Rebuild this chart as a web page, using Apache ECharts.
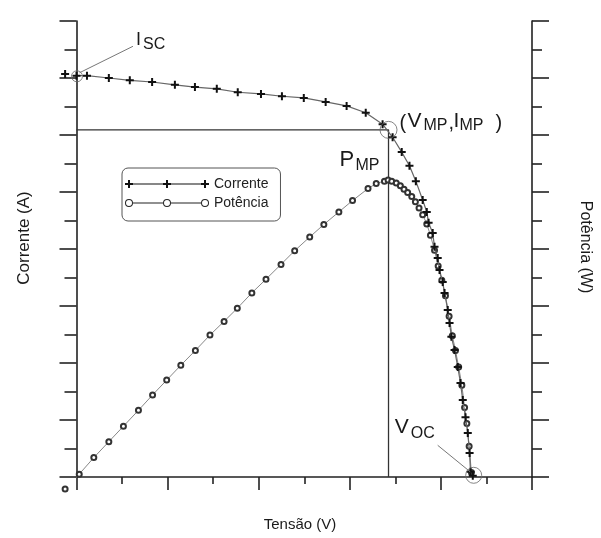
<!DOCTYPE html>
<html>
<head>
<meta charset="utf-8">
<title>Curva I-V e P-V</title>
<script src="https://cdn.jsdelivr.net/npm/echarts@6/dist/echarts.min.js"></script>
<style>
html, body { margin: 0; padding: 0; background: #fff; }
#chart { width: 601px; height: 538px; }
</style>
</head>
<body>
<div id="chart"></div>
<script>
// curva de corrente (tensão x corrente)
var voltagemCorrente = [-0.25, 0.00, 0.23, 0.71, 1.17, 1.66, 2.16, 2.60, 3.08, 3.54,
    4.05, 4.51, 4.99, 5.47, 5.93, 6.35, 6.72, 6.94, 7.14, 7.31,
    7.45, 7.60, 7.69, 7.73, 7.82, 7.86, 7.93, 7.97, 8.04, 8.08,
    8.15, 8.19, 8.23, 8.30, 8.37, 8.43, 8.48, 8.54, 8.59, 8.63,
    8.65, 8.70];
var corrente = [7.07, 7.04, 7.04, 7.00, 6.96, 6.93, 6.88, 6.84, 6.81, 6.75,
    6.72, 6.68, 6.65, 6.58, 6.51, 6.39, 6.19, 5.96, 5.70, 5.46,
    5.19, 4.86, 4.65, 4.46, 4.28, 4.04, 3.84, 3.63, 3.42, 3.23,
    2.93, 2.70, 2.46, 2.23, 1.93, 1.65, 1.35, 1.05, 0.77, 0.42,
    0.09, 0.02];

// curva de potência
var voltagemPotencia = [-0.25, 0.06, 0.38, 0.71, 1.03, 1.36, 1.67, 1.98, 2.29, 2.61,
    2.93, 3.24, 3.53, 3.85, 4.16, 4.49, 4.79, 5.12, 5.43, 5.76,
    6.06, 6.40, 6.58, 6.76, 6.84, 6.92, 7.02, 7.11, 7.19, 7.27,
    7.36, 7.44, 7.52, 7.60, 7.69, 7.77, 7.86, 7.94, 8.02, 8.10,
    8.18, 8.25, 8.32, 8.39, 8.46, 8.52, 8.57, 8.62, 8.67];
var potencia = [-0.21, 0.05, 0.34, 0.62, 0.89, 1.17, 1.44, 1.70, 1.96, 2.22,
    2.49, 2.73, 2.96, 3.23, 3.47, 3.73, 3.97, 4.21, 4.43, 4.65,
    4.85, 5.06, 5.15, 5.19, 5.21, 5.19, 5.16, 5.11, 5.05, 4.99,
    4.92, 4.83, 4.72, 4.60, 4.44, 4.24, 3.98, 3.70, 3.45, 3.18,
    2.82, 2.48, 2.22, 1.93, 1.61, 1.22, 0.94, 0.54, 0.08];

// pontos notáveis
var pontoIsc = [0.01, 7.03];
var pontoMP = [6.85, 6.09];
var pontoVoc = [8.72, 0.03];

var eixoX = [0, 10, 2];   // min, max, intervalo
var eixoY = [0, 8, 1];

function pares(xs, ys) {
    return xs.map(function (x, i) { return [x, ys[i]]; });
}

var fonte = '"Liberation Sans", Arial, sans-serif';
var plus = 'path://M3,0H5V3H8V5H5V8H3V5H0V3H3Z';
var legPlus = 'path://M3,0H5V3H8V5H5V8H3V5H0V3H3Z M8,3.5H38V4.5H8Z M41,0H43V3H46V5H43V8H41V5H38V3H41Z M46,3.5H76V4.5H46Z M79,0H81V3H84V5H81V8H79V5H76V3H79Z';
var legRing = 'path://M0,4A4,4,0,1,0,8,4A4,4,0,1,0,0,4Z M1,4A3,3,0,1,1,7,4A3,3,0,1,1,1,4Z M8,3.5H38V4.5H8Z ' +
    'M38,4A4,4,0,1,0,46,4A4,4,0,1,0,38,4Z M39,4A3,3,0,1,1,45,4A3,3,0,1,1,39,4Z M46,3.5H76V4.5H46Z ' +
    'M76,4A4,4,0,1,0,84,4A4,4,0,1,0,76,4Z M77,4A3,3,0,1,1,83,4A3,3,0,1,1,77,4Z';

function eixoY_(pos, tick, minor) {
    return {
        type: 'value', position: pos,
        min: eixoY[0], max: eixoY[1], interval: eixoY[2],
        axisLine: { show: true, lineStyle: { color: '#222', width: 1.6 } },
        axisTick: { show: true, length: tick, lineStyle: { color: '#222', width: 1.6 } },
        minorTick: { show: true, splitNumber: 2, length: minor, lineStyle: { color: '#222', width: 1.6 } },
        axisLabel: { show: false },
        splitLine: { show: false }
    };
}

var chart = echarts.init(document.getElementById('chart'));
var tamanhos = [11, 17, 16];

chart.setOption({
    animation: false,
    backgroundColor: '#fff',
    grid: { left: 76.5, right: 69, top: 21, bottom: 61, outerBoundsMode: 'none' },
    legend: {
        left: 122, top: 168, orient: 'vertical',
        padding: [9, 12, 11, 3],
        itemGap: 5, itemWidth: 84, itemHeight: 8,
        borderColor: '#555', borderWidth: 1, borderRadius: 6,
        selectedMode: false,
        textStyle: { fontSize: 14, color: '#222', fontFamily: fonte },
        data: [
            { name: 'Corrente', icon: legPlus, itemStyle: { color: '#111', borderWidth: 0 } },
            { name: 'Potência', icon: legRing, itemStyle: { color: '#222', borderWidth: 0 } }
        ]
    },
    xAxis: {
        type: 'value', min: eixoX[0], max: eixoX[1], interval: eixoX[2],
        axisLine: { show: true, lineStyle: { color: '#222', width: 1.6 } },
        axisTick: { show: true, length: 13, lineStyle: { color: '#222', width: 1.6 } },
        minorTick: { show: true, splitNumber: 2, length: 7, lineStyle: { color: '#222', width: 1.6 } },
        axisLabel: { show: false },
        splitLine: { show: false }
    },
    yAxis: [eixoY_('left', 17, 12), eixoY_('right', 17, 10)],
    series: [
        {
            name: 'retangulo', type: 'line', silent: true, z: 1,
            data: [[0, pontoMP[1]], pontoMP, [pontoMP[0], 0]],
            symbol: 'none',
            lineStyle: { color: '#333', width: 1.3 }
        },
        {
            name: 'Corrente', type: 'line', clip: false, z: 3,
            data: pares(voltagemCorrente, corrente),
            symbol: plus, symbolSize: 8,
            itemStyle: { color: '#111' },
            lineStyle: { color: '#666', width: 1.2 }
        },
        {
            name: 'Potência', type: 'line', yAxisIndex: 1, clip: false, z: 2,
            data: pares(voltagemPotencia, potencia),
            symbol: 'emptyCircle', symbolSize: 5,
            itemStyle: { color: '#333', borderWidth: 1 },
            lineStyle: { color: '#888', width: 1 }
        },
        {
            name: 'marcos', type: 'scatter', clip: false, silent: true, z: 4,
            data: [pontoIsc, pontoMP, pontoVoc],
            symbol: 'circle',
            symbolSize: function (v, p) { return tamanhos[p.dataIndex]; },
            itemStyle: { color: 'rgba(0,0,0,0)', borderColor: '#666', borderWidth: 1 }
        }
    ]
});

// anotações presas aos pontos
function txt(s, x, y, size, rot) {
    return {
        type: 'text', x: x, y: y, rotation: rot || 0, silent: true, z: 10,
        style: {
            text: s, x: 0, y: 0, fill: '#1a1a1a',
            font: size + 'px ' + fonte,
            align: rot ? 'center' : 'left', textAlign: rot ? 'center' : 'left',
            verticalAlign: 'middle', textVerticalAlign: 'middle'
        }
    };
}
function linha(x1, y1, x2, y2) {
    return {
        type: 'line', silent: true, z: 10,
        shape: { x1: x1, y1: y1, x2: x2, y2: y2 },
        style: { stroke: '#777', lineWidth: 1 }
    };
}

var a = chart.convertToPixel({ seriesIndex: 1 }, pontoIsc);
var m = chart.convertToPixel({ seriesIndex: 1 }, pontoMP);
var v = chart.convertToPixel({ seriesIndex: 1 }, pontoVoc);

chart.setOption({
    graphic: [
        linha(a[0] + 2.5, a[1] - 3.5, a[0] + 56, a[1] - 30),
        txt('I', a[0] + 59, a[1] - 36, 18),
        txt('SC', a[0] + 66, a[1] - 32, 16),

        txt('(', m[0] + 11, m[1] - 6, 20),
        txt('V', m[0] + 19, m[1] - 8.5, 21),
        txt('MP', m[0] + 35, m[1] - 4.5, 16),
        txt(',', m[0] + 60, m[1] - 6, 20),
        txt('I', m[0] + 65, m[1] - 8.5, 21),
        txt('MP', m[0] + 71, m[1] - 4.5, 16),
        txt(')', m[0] + 107, m[1] - 6, 20),

        txt('P', m[0] - 49, m[1] + 30.5, 22),
        txt('MP', m[0] - 33, m[1] + 35.5, 16),

        linha(v[0] - 36, v[1] - 30, v[0] - 3.5, v[1] - 3.5),
        txt('V', v[0] - 79, v[1] - 48.5, 21),
        txt('OC', v[0] - 63, v[1] - 42, 16),

        txt('Corrente (A)', 24, 238, 17, Math.PI / 2),
        txt('Tensão (V)', 300, 525, 15, 0.0000001),
        txt('Potência (W)', 585, 247, 16, -Math.PI / 2)
    ]
});
</script>
</body>
</html>
